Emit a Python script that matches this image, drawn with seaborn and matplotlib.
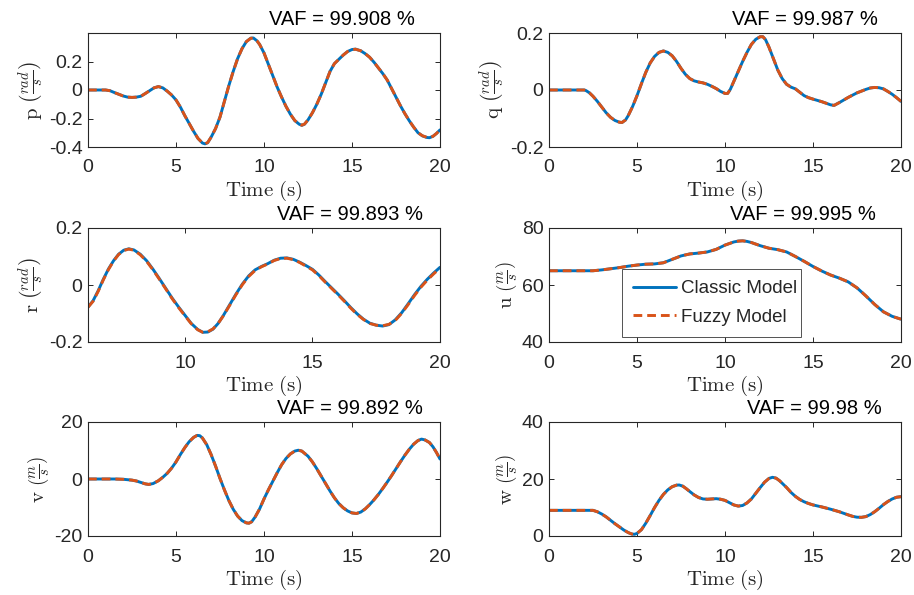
import numpy as np
import pandas as pd
import matplotlib
matplotlib.use("Agg")
import matplotlib.pyplot as plt
import seaborn as sns

# ---- time series data (roll, pitch, yaw rates and body velocities) ----
t_p = [0, 0.5, 1.0, 1.25, 1.5, 1.75, 2.0, 2.25, 2.5, 2.75, 3.0, 3.25, 3.5, 3.75, 4.0, 4.25, 4.5,
       4.75, 5.0, 5.25, 5.5, 5.75, 6.0, 6.25, 6.5, 6.65, 6.8, 7.0, 7.25, 7.5, 7.75, 8.0, 8.25,
       8.5, 8.75, 9.0, 9.25, 9.4, 9.6, 9.75, 10.0, 10.25, 10.5, 10.75, 11.0, 11.25, 11.5, 11.75,
       12.0, 12.15, 12.3, 12.5, 12.75, 13.0, 13.25, 13.5, 13.75, 14.0, 14.25, 14.5, 14.75, 15.0,
       15.2, 15.5, 15.75, 16.0, 16.25, 16.5, 16.75, 17.0, 17.25, 17.5, 17.75, 18.0, 18.25, 18.5,
       18.75, 19.0, 19.25, 19.4, 19.6, 19.8, 20.0]
classic_p = [0, 0, 0, -0.005, -0.018, -0.03, -0.042, -0.05, -0.052, -0.05, -0.044, -0.025,
             -0.005, 0.015, 0.024, 0.015, -0.008, -0.035, -0.07, -0.12, -0.18, -0.235, -0.29,
             -0.34, -0.372, -0.378, -0.37, -0.33, -0.27, -0.19, -0.08, 0.03, 0.13, 0.22, 0.29,
             0.34, 0.364, 0.365, 0.345, 0.32, 0.26, 0.18, 0.1, 0.02, -0.05, -0.115, -0.17, -0.215,
             -0.24, -0.248, -0.24, -0.21, -0.16, -0.1, -0.03, 0.05, 0.13, 0.185, 0.215, 0.245,
             0.27, 0.284, 0.287, 0.275, 0.255, 0.23, 0.195, 0.155, 0.115, 0.07, 0.01, -0.05, -0.11,
             -0.165, -0.215, -0.26, -0.3, -0.322, -0.333, -0.335, -0.325, -0.305, -0.28]
fuzzy_p = [0, 0, 0, -0.005, -0.018, -0.03, -0.042, -0.05, -0.052, -0.05, -0.044, -0.025,
           -0.005, 0.015, 0.024, 0.015, -0.008, -0.035, -0.07, -0.12, -0.18, -0.235, -0.29,
           -0.34, -0.371, -0.377, -0.369, -0.33, -0.27, -0.19, -0.08, 0.03, 0.13, 0.22, 0.29,
           0.34, 0.363, 0.364, 0.345, 0.32, 0.26, 0.18, 0.1, 0.02, -0.05, -0.115, -0.17, -0.214,
           -0.239, -0.247, -0.239, -0.21, -0.16, -0.1, -0.03, 0.05, 0.13, 0.185, 0.215, 0.245,
           0.27, 0.283, 0.286, 0.275, 0.255, 0.23, 0.195, 0.155, 0.115, 0.07, 0.01, -0.05, -0.11,
           -0.165, -0.215, -0.26, -0.3, -0.321, -0.332, -0.334, -0.325, -0.305, -0.28]

t_q = [0, 0.5, 1.0, 1.5, 2.0, 2.1, 2.3, 2.5, 2.75, 3.0, 3.25, 3.5, 3.75, 4.0, 4.15, 4.35, 4.5,
       4.75, 5.0, 5.25, 5.5, 5.75, 6.0, 6.25, 6.5, 6.75, 7.0, 7.25, 7.5, 7.75, 8.0, 8.25, 8.5,
       8.75, 9.0, 9.25, 9.5, 9.75, 10.0, 10.15, 10.3, 10.5, 10.75, 11.0, 11.25, 11.5, 11.75,
       12.0, 12.15, 12.3, 12.5, 12.75, 13.0, 13.25, 13.5, 13.75, 14.0, 14.25, 14.5, 14.75, 15.0,
       15.5, 16.0, 16.2, 16.5, 17.0, 17.5, 18.0, 18.25, 18.5, 18.75, 19.0, 19.25, 19.5, 19.75,
       20.0]
classic_q = [0, 0, 0, 0, 0, -0.002, -0.01, -0.022, -0.04, -0.06, -0.08, -0.096, -0.107, -0.113,
             -0.114, -0.105, -0.09, -0.058, -0.02, 0.022, 0.062, 0.095, 0.118, 0.132, 0.137,
             0.132, 0.12, 0.1, 0.076, 0.055, 0.04, 0.032, 0.028, 0.025, 0.02, 0.013, 0.005,
             -0.005, -0.012, -0.012, 0.002, 0.03, 0.065, 0.1, 0.132, 0.16, 0.178, 0.187, 0.187,
             0.177, 0.15, 0.11, 0.07, 0.04, 0.02, 0.01, 0.004, -0.008, -0.02, -0.027, -0.032,
             -0.041, -0.052, -0.054, -0.044, -0.026, -0.01, 0.002, 0.007, 0.009, 0.008, 0.004,
             -0.005, -0.015, -0.027, -0.04]
fuzzy_q = [0, 0, 0, 0, 0, -0.002, -0.01, -0.022, -0.04, -0.06, -0.08, -0.096, -0.107, -0.113,
           -0.114, -0.105, -0.09, -0.058, -0.02, 0.022, 0.062, 0.095, 0.118, 0.132, 0.137,
           0.132, 0.12, 0.1, 0.076, 0.055, 0.04, 0.032, 0.028, 0.025, 0.02, 0.013, 0.005,
           -0.005, -0.012, -0.012, 0.002, 0.03, 0.065, 0.1, 0.132, 0.16, 0.178, 0.187, 0.187,
           0.177, 0.15, 0.11, 0.07, 0.04, 0.02, 0.01, 0.004, -0.008, -0.02, -0.027, -0.032,
           -0.041, -0.052, -0.054, -0.044, -0.026, -0.01, 0.002, 0.007, 0.009, 0.008, 0.004,
           -0.005, -0.015, -0.027, -0.04]

t_r = [6.2, 6.4, 6.6, 6.8, 7.0, 7.2, 7.4, 7.6, 7.8, 8.0, 8.25, 8.5, 8.75, 9.0, 9.25, 9.5, 9.75,
       10.0, 10.25, 10.5, 10.7, 10.9, 11.1, 11.3, 11.5, 11.75, 12.0, 12.25, 12.5, 12.75, 13.0,
       13.25, 13.5, 13.75, 14.0, 14.25, 14.5, 14.75, 15.0, 15.25, 15.5, 15.75, 16.0, 16.25,
       16.5, 16.75, 17.0, 17.25, 17.5, 17.75, 18.0, 18.25, 18.5, 18.75, 19.0, 19.25, 19.5,
       19.75, 20.0]
classic_r = [-0.078, -0.055, -0.02, 0.02, 0.056, 0.085, 0.108, 0.122, 0.127, 0.123, 0.108,
             0.085, 0.055, 0.022, -0.012, -0.046, -0.077, -0.106, -0.135, -0.156, -0.166,
             -0.165, -0.155, -0.135, -0.108, -0.07, -0.032, 0.003, 0.032, 0.053, 0.065, 0.075,
             0.087, 0.094, 0.095, 0.09, 0.08, 0.068, 0.055, 0.035, 0.012, -0.01, -0.032, -0.055,
             -0.079, -0.101, -0.12, -0.134, -0.141, -0.144, -0.139, -0.122, -0.097, -0.066,
             -0.034, -0.005, 0.02, 0.042, 0.062]
fuzzy_r = [-0.078, -0.057, -0.022, 0.018, 0.054, 0.084, 0.107, 0.121, 0.126, 0.122, 0.106,
           0.083, 0.053, 0.02, -0.014, -0.048, -0.079, -0.108, -0.136, -0.157, -0.166,
           -0.164, -0.154, -0.135, -0.109, -0.072, -0.034, 0.001, 0.03, 0.051, 0.064, 0.074,
           0.086, 0.093, 0.094, 0.089, 0.079, 0.066, 0.053, 0.033, 0.01, -0.012, -0.034, -0.057,
           -0.081, -0.103, -0.121, -0.135, -0.141, -0.143, -0.138, -0.124, -0.099, -0.069,
           -0.037, -0.008, 0.017, 0.039, 0.059]

t_u = [0, 0.5, 1.0, 1.5, 2.0, 2.5, 3.0, 3.5, 4.0, 4.5, 5.0, 5.5, 6.0, 6.5, 7.0, 7.5, 8.0, 8.5,
       9.0, 9.5, 10.0, 10.5, 10.75, 11.0, 11.25, 11.5, 12.0, 12.5, 13.0, 13.5, 14.0, 14.5, 15.0,
       15.5, 16.0, 16.5, 17.0, 17.5, 18.0, 18.5, 19.0, 19.5, 20.0]
classic_u = [65, 65, 65, 65, 65, 65, 65.3, 65.7, 66.1, 66.6, 67.0, 67.3, 67.4, 67.8, 69.0, 70.2,
             70.9, 71.2, 71.6, 72.5, 74.0, 75.1, 75.4, 75.5, 75.3, 74.9, 73.8, 72.9, 72.4, 71.6,
             70.0, 68.3, 66.5, 64.9, 63.5, 62.4, 61.1, 59.0, 56.2, 53.2, 50.6, 49.0, 48.0]
fuzzy_u = [65, 65, 65, 65, 65, 65, 65.3, 65.7, 66.1, 66.6, 67.0, 67.3, 67.4, 67.8, 69.0, 70.2,
           70.9, 71.2, 71.6, 72.5, 74.0, 75.1, 75.4, 75.5, 75.3, 74.9, 73.8, 72.9, 72.4, 71.6,
           70.0, 68.3, 66.5, 64.9, 63.5, 62.4, 61.1, 59.0, 56.2, 53.2, 50.6, 49.0, 48.0]

t_v = [0, 1.0, 1.5, 2.0, 2.5, 2.75, 3.0, 3.25, 3.45, 3.7, 4.0, 4.25, 4.5, 4.75, 5.0, 5.25, 5.5,
       5.75, 6.0, 6.2, 6.35, 6.5, 6.75, 7.0, 7.25, 7.5, 7.75, 8.0, 8.25, 8.5, 8.75, 9.0, 9.15,
       9.3, 9.5, 9.75, 10.0, 10.25, 10.5, 10.75, 11.0, 11.25, 11.5, 11.75, 11.95, 12.15, 12.5,
       12.75, 13.0, 13.25, 13.5, 13.75, 14.0, 14.25, 14.5, 14.75, 15.0, 15.25, 15.5, 15.75,
       16.0, 16.25, 16.5, 16.75, 17.0, 17.25, 17.5, 17.75, 18.0, 18.25, 18.5, 18.75, 18.95,
       19.15, 19.4, 19.6, 19.8, 20.0]
classic_v = [0, 0, 0, -0.1, -0.4, -0.7, -1.2, -1.7, -1.9, -1.6, -0.6, 0.6, 2.0, 3.8, 6.0, 8.6,
             11.0, 13.1, 14.6, 15.3, 15.2, 14.4, 12.0, 8.5, 4.5, 0.2, -3.8, -7.5, -10.6, -13.0,
             -14.6, -15.4, -15.5, -15.0, -13.3, -10.5, -7.0, -3.8, -0.8, 2.2, 5.0, 7.2, 8.8, 9.8,
             10.1, 9.8, 8.0, 6.0, 3.6, 1.0, -1.6, -4.2, -6.6, -8.6, -10.1, -11.2, -11.9, -12.1,
             -11.6, -10.5, -9.0, -7.3, -5.4, -3.3, -1.1, 1.2, 3.6, 6.0, 8.3, 10.4, 12.2, 13.5,
             14.0, 13.7, 12.8, 11.3, 9.3, 7.0]
fuzzy_v = [0, 0, 0, -0.1, -0.4, -0.7, -1.2, -1.7, -1.9, -1.6, -0.6, 0.6, 2.0, 3.8, 6.0, 8.6,
           11.0, 13.1, 14.6, 15.3, 15.2, 14.4, 12.0, 8.5, 4.5, 0.2, -3.8, -7.5, -10.6, -13.0,
           -14.6, -15.4, -15.5, -15.0, -13.3, -10.5, -7.0, -3.8, -0.8, 2.2, 5.0, 7.2, 8.8, 9.8,
           10.1, 9.8, 8.0, 6.0, 3.6, 1.0, -1.6, -4.2, -6.6, -8.6, -10.1, -11.2, -11.9, -12.1,
           -11.6, -10.5, -9.0, -7.3, -5.4, -3.3, -1.1, 1.2, 3.6, 6.0, 8.3, 10.4, 12.2, 13.5,
           14.0, 13.7, 12.8, 11.3, 9.3, 7.0]

t_w = [0, 1.0, 2.0, 2.5, 2.75, 3.0, 3.25, 3.5, 3.75, 4.0, 4.25, 4.5, 4.7, 4.85, 5.0, 5.25, 5.5,
       5.75, 6.0, 6.25, 6.5, 6.75, 7.0, 7.25, 7.4, 7.6, 7.8, 8.0, 8.25, 8.5, 8.75, 9.0, 9.25,
       9.5, 9.75, 10.0, 10.25, 10.5, 10.75, 11.0, 11.25, 11.5, 11.75, 12.0, 12.25, 12.5, 12.7,
       12.9, 13.1, 13.3, 13.5, 13.75, 14.0, 14.25, 14.5, 14.75, 15.0, 15.5, 16.0, 16.5, 17.0,
       17.25, 17.5, 17.75, 18.0, 18.25, 18.5, 18.75, 19.0, 19.25, 19.5, 19.75, 20.0]
classic_w = [9, 9, 9, 9, 8.5, 7.7, 6.7, 5.5, 4.3, 3.2, 2.1, 1.2, 0.7, 0.6, 0.9, 2.2, 4.5, 7.2,
             10.0, 12.5, 14.6, 16.2, 17.3, 17.85, 17.9, 17.5, 16.6, 15.6, 14.4, 13.5, 13.0, 12.9,
             13.0, 13.1, 12.9, 12.5, 11.7, 10.9, 10.5, 10.7, 11.6, 13.0, 15.0, 17.0, 18.9, 20.2,
             20.6, 20.3, 19.4, 18.2, 17.0, 15.3, 13.9, 12.8, 12.0, 11.4, 10.9, 10.2, 9.4, 8.5,
             7.4, 6.9, 6.6, 6.55, 6.8, 7.5, 8.5, 9.7, 11.0, 12.1, 13.0, 13.6, 13.8]
fuzzy_w = [9, 9, 9, 9, 8.5, 7.7, 6.7, 5.5, 4.3, 3.2, 2.1, 1.2, 0.7, 0.6, 0.9, 2.2, 4.5, 7.2,
           10.0, 12.5, 14.6, 16.2, 17.3, 17.85, 17.9, 17.5, 16.6, 15.6, 14.4, 13.5, 13.0, 12.9,
           13.0, 13.1, 12.9, 12.5, 11.7, 10.9, 10.5, 10.7, 11.6, 13.0, 15.0, 17.0, 18.9, 20.2,
           20.6, 20.3, 19.4, 18.2, 17.0, 15.3, 13.9, 12.8, 12.0, 11.4, 10.9, 10.2, 9.4, 8.5,
           7.4, 6.9, 6.6, 6.55, 6.8, 7.5, 8.5, 9.7, 11.0, 12.1, 13.0, 13.6, 13.8]

vaf_labels = ["VAF = 99.908 %", "VAF = 99.987 %", "VAF = 99.893 %",
              "VAF = 99.995 %", "VAF = 99.892 %", "VAF = 99.98 %"]
y_names = ["p", "q", "r", "u", "v", "w"]
y_units = ["rad", "rad", "rad", "m", "m", "m"]
y_limits = [(-0.4, 0.4), (-0.2, 0.2), (-0.2, 0.2), (40, 80), (-20, 20), (0, 40)]
y_ticks = [[-0.4, -0.2, 0, 0.2], [-0.2, 0, 0.2], [-0.2, 0, 0.2],
           [40, 60, 80], [-20, 0, 20], [0, 20, 40]]
x_limits = [(0, 20), (0, 20), (6.2, 20), (0, 20), (0, 20), (0, 20)]
x_ticks = [[0, 5, 10, 15, 20], [0, 5, 10, 15, 20], [10, 15, 20],
           [0, 5, 10, 15, 20], [0, 5, 10, 15, 20], [0, 5, 10, 15, 20]]
series_labels = ["Classic Model", "Fuzzy Model"]

panels = [(t_p, classic_p, fuzzy_p), (t_q, classic_q, fuzzy_q), (t_r, classic_r, fuzzy_r),
          (t_u, classic_u, fuzzy_u), (t_v, classic_v, fuzzy_v), (t_w, classic_w, fuzzy_w)]

# ---- styling ----
sns.set_theme(style="ticks")
plt.rcParams["font.family"] = ["Liberation Sans", "DejaVu Sans"]
plt.rcParams["mathtext.fontset"] = "cm"
plt.rcParams["axes.unicode_minus"] = False

blue = "#0072BD"
orange = "#D95319"
axis_col = "#262626"

fig = plt.figure(figsize=(9.14, 5.95), dpi=100)

col_left = [88 / 914, 549 / 914]
row_bottom = [1 - 147 / 595, 1 - 342 / 595, 1 - 536 / 595]
ax_w = 352 / 914
ax_h = 114 / 595
vaf_x = [0.72, 0.727, 0.745, 0.722, 0.745, 0.755]


def fmt(v):
    if v == 0:
        return "0"
    return f"{v:g}"


for i, (t, cl, fz) in enumerate(panels):
    r, c = divmod(i, 2)
    ax = fig.add_axes([col_left[c], row_bottom[r], ax_w, ax_h])
    df = pd.DataFrame({"Time": t + t, "value": cl + fz,
                       "model": [series_labels[0]] * len(t) + [series_labels[1]] * len(t)})
    sns.lineplot(data=df[df.model == series_labels[0]], x="Time", y="value", ax=ax,
                 color=blue, lw=2.1, label=series_labels[0], legend=False,
                 solid_joinstyle="round")
    sns.lineplot(data=df[df.model == series_labels[1]], x="Time", y="value", ax=ax,
                 color=orange, lw=2.1, ls=(0, (3.0, 1.7)), label=series_labels[1],
                 legend=False, dash_joinstyle="round")
    ax.set_xlim(*x_limits[i])
    ax.set_ylim(*y_limits[i])
    ax.set_xticks(x_ticks[i])
    ax.set_xticklabels([fmt(v) for v in x_ticks[i]])
    ax.set_yticks(y_ticks[i])
    ax.set_yticklabels([fmt(v) for v in y_ticks[i]])
    ax.tick_params(direction="in", length=3.5, width=0.7, colors=axis_col,
                   labelsize=14, top=True, right=True)
    ax.tick_params(axis="x", pad=9)
    ax.tick_params(axis="y", pad=4)
    for sp in ax.spines.values():
        sp.set_visible(True)
        sp.set_color(axis_col)
        sp.set_linewidth(0.8)
    ax.set_xlabel(r"$\mathrm{Time\ (s)}$", fontsize=15, color=axis_col, labelpad=2)
    ax.set_ylabel(r"$\mathrm{%s}\ \left(\frac{%s}{s}\right)$" % (y_names[i], y_units[i]),
                  fontsize=15, color=axis_col, labelpad=2)
    ax.text(vaf_x[i], 1.12, vaf_labels[i], transform=ax.transAxes, ha="center",
            va="center", fontsize=14.5, color="black")
    if i == 3:
        leg = ax.legend(loc="lower left", bbox_to_anchor=(0.207, 0.044, 0.509, 0.58),
                        mode="expand", fontsize=13.5, frameon=True, fancybox=False,
                        handlelength=2.3, borderpad=0.6, labelspacing=0.6,
                        handletextpad=0.25, borderaxespad=0)
        leg.get_frame().set_edgecolor(axis_col)
        leg.get_frame().set_linewidth(0.7)

fig.savefig("out.png", dpi=100)
